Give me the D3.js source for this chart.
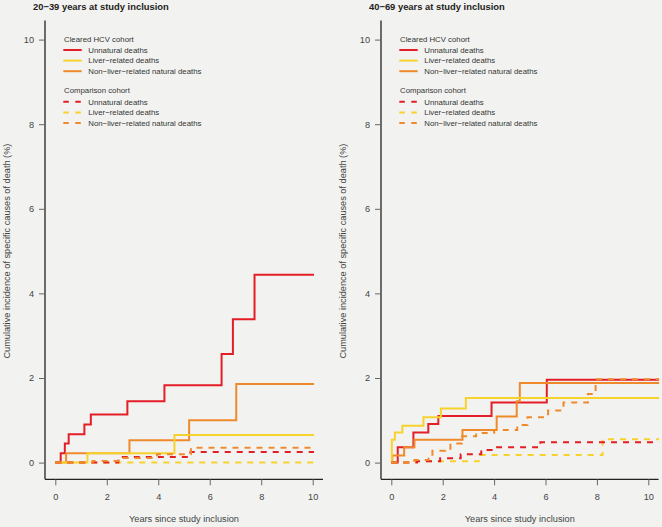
<!DOCTYPE html>
<html>
<head>
<meta charset="utf-8">
<script src="https://cdn.jsdelivr.net/npm/d3@7"></script>
<style>
  html, body { margin: 0; padding: 0; background: #f2f3f1; }
  svg { display: block; }
  text { font-family: "Liberation Sans", Arial, sans-serif; }
</style>
</head>
<body>
<svg id="chart" width="662" height="527"></svg>
<script>
// ---------------- DATA ----------------
const panelTitles = ["20\u221239 years at study inclusion", "40\u221269 years at study inclusion"];
const xTicks = [0, 2, 4, 6, 8, 10];
const yTicks = [0, 2, 4, 6, 8, 10];
const xTitle = "Years since study inclusion";
const yTitle = "Cumulative incidence of specific causes of death (%)";
const cohortNames = ["Cleared HCV cohort", "Comparison cohort"];
const causeNames = ["Unnatural deaths", "Liver\u2212related deaths", "Non\u2212liver\u2212related natural deaths"];

// Left panel (20-39 years): [year, cumulative %]
const L_hcv_unnatural = [[0,0],[0.21,0.22],[0.37,0.45],[0.52,0.67],[1.13,0.9],[1.38,1.14],[2.8,1.45],[4.24,1.83],[6.46,2.57],[6.9,3.39],[7.74,4.44],[10.05,4.44]];
const L_hcv_liver = [[0,0],[1.25,0.22],[4.63,0.65],[10.05,0.65]];
const L_hcv_nonliver = [[0,0],[0.42,0.22],[2.88,0.53],[5.2,1.0],[7.03,1.86],[10.05,1.86]];
const L_cmp_unnatural = [[0,0],[2.45,0.13],[5.25,0.25],[10.05,0.25]];
const L_cmp_liver = [[0,0],[10.05,0]];
const L_cmp_nonliver = [[0,0],[1.45,0.04],[2.45,0.11],[3.95,0.2],[5.27,0.35],[10.05,0.35]];

// Right panel (40-69 years)
const R_hcv_unnatural = [[0,0],[0.25,0.36],[0.86,0.71],[1.44,0.91],[1.83,1.1],[3.9,1.42],[6.05,1.96],[10.42,1.96]];
const R_hcv_liver = [[0,0],[0.02,0.54],[0.14,0.71],[0.43,0.87],[1.25,1.07],[1.93,1.28],[2.9,1.53],[10.42,1.53]];
const R_hcv_nonliver = [[0,0],[0.04,0.17],[0.5,0.36],[0.9,0.54],[2.77,0.77],[4.1,1.09],[4.88,1.45],[5.0,1.88],[10.42,1.88]];
const R_cmp_unnatural = [[0,0],[1.0,0.03],[1.9,0.1],[2.7,0.2],[3.5,0.3],[4.0,0.36],[5.8,0.48],[10.42,0.48]];
const R_cmp_liver = [[0,0],[0.9,0.03],[3.4,0.18],[8.22,0.55],[10.42,0.55]];
const R_cmp_nonliver = [[0,0],[0.9,0.06],[1.45,0.13],[1.6,0.28],[2.1,0.33],[2.3,0.45],[2.75,0.62],[3.3,0.7],[4.0,0.77],[4.9,0.89],[5.3,1.07],[6.1,1.23],[6.7,1.42],[7.65,1.62],[7.95,1.97],[10.42,1.97]];

// ---------------- STYLE ----------------
const colors = { unnatural: "#e41e26", liver: "#f8d22c", nonliver: "#ef8a2c" };
const causeKeys = ["unnatural", "liver", "nonliver"];
const dash = "6,6";

const panels = [
  { title: panelTitles[0], axisX: 45, x0: 55.3, x10: 312.7,
    hcv: { unnatural: L_hcv_unnatural, liver: L_hcv_liver, nonliver: L_hcv_nonliver },
    cmp: { unnatural: L_cmp_unnatural, liver: L_cmp_liver, nonliver: L_cmp_nonliver } },
  { title: panelTitles[1], axisX: 381, x0: 391.3, x10: 648.3,
    hcv: { unnatural: R_hcv_unnatural, liver: R_hcv_liver, nonliver: R_hcv_nonliver },
    cmp: { unnatural: R_cmp_unnatural, liver: R_cmp_liver, nonliver: R_cmp_nonliver } }
];

const svg = d3.select("#chart");
const y = d3.scaleLinear().domain([0, 10]).range([462.6, 39.6]);
const axisY = 479.3;

panels.forEach((p, i) => {
  const x = d3.scaleLinear().domain([0, 10]).range([p.x0, p.x10]);
  const g = svg.append("g");

  // title
  g.append("text").attr("x", p.axisX - 12 + (i === 1 ? 0 : 0)).attr("y", 9.5)
    .attr("font-size", 9.4).attr("font-weight", "bold").attr("fill", "#222")
    .text(p.title);

  // axis lines
  g.append("line").attr("x1", p.axisX).attr("x2", p.axisX)
    .attr("y1", y(10.45)).attr("y2", axisY).attr("stroke", "#222").attr("stroke-width", 1.3);
  g.append("line").attr("x1", p.axisX).attr("x2", x(10.4))
    .attr("y1", axisY).attr("y2", axisY).attr("stroke", "#222").attr("stroke-width", 1.3);

  // y axis ticks
  const ya = g.append("g").attr("transform", `translate(${p.axisX},0)`)
    .call(d3.axisLeft(y).tickValues(yTicks).tickSize(6).tickPadding(5).tickFormat(d3.format("d")));
  ya.select(".domain").remove();
  ya.selectAll(".tick line").attr("stroke", "#666");
  ya.selectAll(".tick text").attr("font-size", 9.2).attr("fill", "#444")
    .attr("font-family", "Liberation Sans, Arial, sans-serif");

  // x axis ticks
  const xa = g.append("g").attr("transform", `translate(0,${axisY})`)
    .call(d3.axisBottom(x).tickValues(xTicks).tickSize(6).tickPadding(8).tickFormat(d3.format("d")));
  xa.select(".domain").remove();
  xa.selectAll(".tick line").attr("stroke", "#666");
  xa.selectAll(".tick text").attr("font-size", 9.2).attr("fill", "#444")
    .attr("font-family", "Liberation Sans, Arial, sans-serif");

  // axis titles
  g.append("text").attr("x", (x(0) + x(10)) / 2).attr("y", 521.5)
    .attr("text-anchor", "middle").attr("font-size", 9.2).attr("fill", "#444").text(xTitle);
  g.append("text").attr("transform", `translate(${p.axisX - 35.5},${y(5)}) rotate(-90)`)
    .attr("text-anchor", "middle").attr("font-size", 9.2).attr("fill", "#444").text(yTitle);

  // lines
  const line = d3.line().x(d => x(d[0])).y(d => y(d[1])).curve(d3.curveStepAfter);
  ["unnatural", "nonliver", "liver"].forEach(k => {
    g.append("path").datum(p.hcv[k]).attr("d", line).attr("fill", "none")
      .attr("stroke", colors[k]).attr("stroke-width", 2);
  });
  ["liver", "unnatural", "nonliver"].forEach(k => {
    g.append("path").datum(p.cmp[k]).attr("d", line).attr("fill", "none")
      .attr("stroke", colors[k]).attr("stroke-width", 2).attr("stroke-dasharray", dash);
  });

  // legend
  const lg = g.append("g").attr("transform", `translate(${p.axisX},0)`);
  const groups = [{ name: cohortNames[0], top: 41.5, dashed: false }, { name: cohortNames[1], top: 93.3, dashed: true }];
  groups.forEach(gr => {
    lg.append("text").attr("x", 19).attr("y", gr.top).attr("font-size", 7.8).attr("fill", "#333").text(gr.name);
    causeKeys.forEach((k, j) => {
      const ly = gr.top + 8.5 + j * 10.6;
      lg.append("line").attr("x1", 18.3).attr("x2", 36.7).attr("y1", ly).attr("y2", ly)
        .attr("stroke", colors[k]).attr("stroke-width", 2)
        .attr("stroke-dasharray", gr.dashed ? "5.5,6.5" : null);
      lg.append("text").attr("x", 43.3).attr("y", ly + 2.8).attr("font-size", 7.8).attr("fill", "#333")
        .text(causeNames[j]);
    });
  });
});
</script>
</body>
</html>
